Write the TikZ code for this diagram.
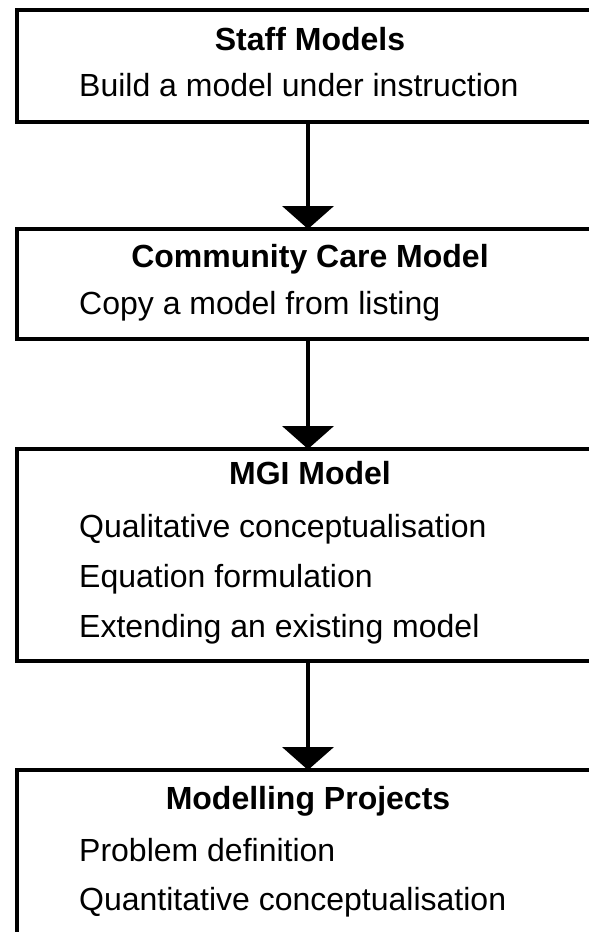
\documentclass[tikz,border=0pt]{standalone}
\usepackage{fontspec}
\setmainfont{Liberation Sans}
\usetikzlibrary{arrows.meta}
\begin{document}
\begin{tikzpicture}[x=1pt,y=-1pt,
  box/.style={draw, line width=3.5pt, rectangle, inner sep=0pt, outer sep=0pt, minimum width=575pt, anchor=north west},
  head/.style={font=\fontsize{32}{38}\selectfont\bfseries, anchor=base, inner sep=0pt},
  item/.style={font=\fontsize{32}{38}\selectfont, anchor=base west, inner sep=0pt},
  flow/.style={line width=4.5pt, -{Triangle[width=51pt,length=23pt]}}
]
\useasboundingbox (0,0) rectangle (589,932);
\coordinate (ax) at (308,0);
% boxes
\node[box, minimum height=112pt] (b1) at (17,10) {};
\node[box, minimum height=110pt] (b2) at (17,229) {};
\node[box, minimum height=212pt] (b3) at (17,449) {};
\node[box, minimum height=250pt] (b4) at (17,770) {};
% texts
\node[head] (h1) at (310,50) {Staff Models};
\node[item] (t11) at (79,96) {Build a model under instruction};
\node[head] (h2) at (310,267) {Community Care Model};
\node[item] (t21) at (79,314) {Copy a model from listing};
\node[head] (h3) at (310,484) {MGI Model};
\node[item] (t31) at (79,537) {Qualitative conceptualisation};
\node[item] (t32) at (79,587) {Equation formulation};
\node[item] (t33) at (79,637) {Extending an existing model};
\node[head] (h4) at (308,809) {Modelling Projects};
\node[item] (t41) at (79,861) {Problem definition};
\node[item] (t42) at (79,910) {Quantitative conceptualisation};
% arrows
\draw[flow] (b1.south -| ax) -- (b2.north -| ax);
\draw[flow] (b2.south -| ax) -- (b3.north -| ax);
\draw[flow] (b3.south -| ax) -- (b4.north -| ax);
\end{tikzpicture}
\end{document}
